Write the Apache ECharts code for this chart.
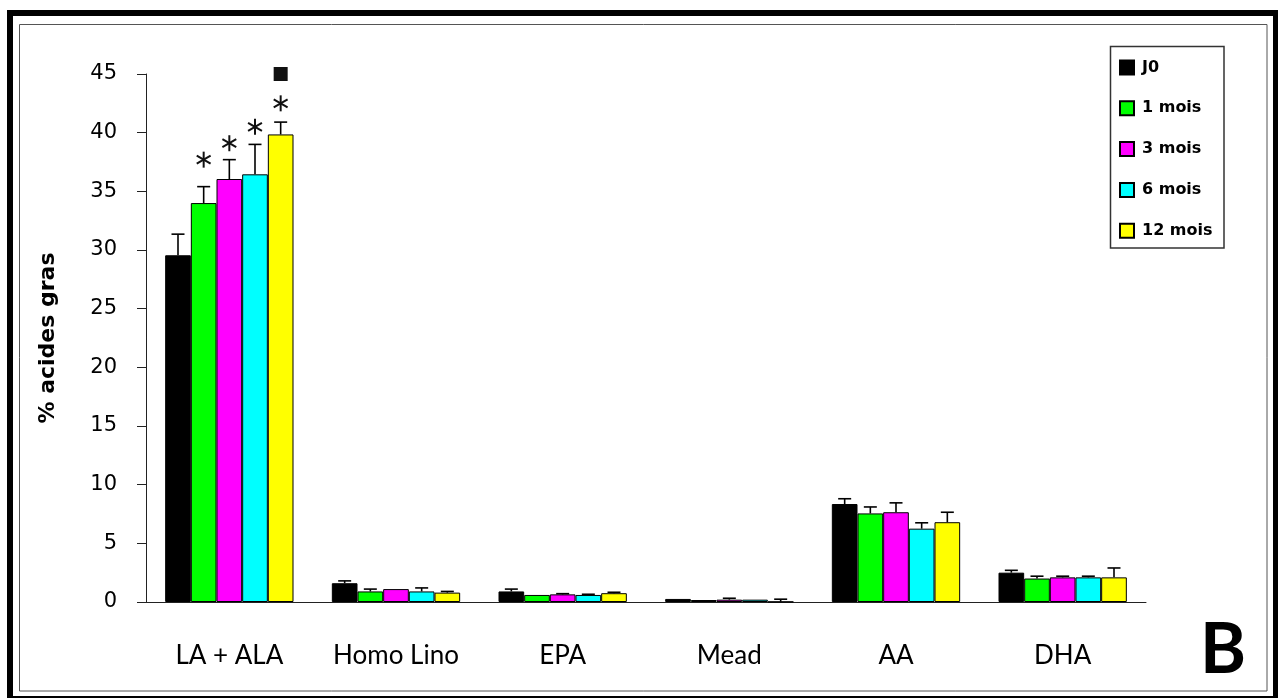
<!DOCTYPE html>
<html>
<head>
<meta charset="utf-8">
<script src="https://cdn.jsdelivr.net/npm/echarts@6/dist/echarts.min.js"></script>
<style>
html,body{margin:0;padding:0;background:#fff;}
#chart{width:1278px;height:698px;}
</style>
</head>
<body>
<div id="chart"></div>
<script>
const categories = ['LA + ALA', 'Homo Lino', 'EPA', 'Mead', 'AA', 'DHA'];
const seriesNames = ['J0', '1 mois', '3 mois', '6 mois', '12 mois'];
const colors = ['#000000', '#00ff00', '#ff00ff', '#00ffff', '#ffff00'];

const valJ0  = [29.55, 1.6, 0.9, 0.26, 8.35, 2.5];
const val1m  = [34.0, 0.9, 0.6, 0.17, 7.55, 2.0];
const val3m  = [36.05, 1.1, 0.65, 0.2, 7.65, 2.1];
const val6m  = [36.45, 0.9, 0.6, 0.2, 6.25, 2.1];
const val12m = [39.85, 0.8, 0.75, 0.02, 6.8, 2.1];

const sdJ0  = [1.8, 0.2, 0.2, 0, 0.45, 0.2];
const sd1m  = [1.4, 0.2, 0, 0, 0.55, 0.2];
const sd3m  = [1.65, 0, 0.06, 0.12, 0.8, 0.1];
const sd6m  = [2.55, 0.3, 0.06, 0, 0.5, 0.1];
const sd12m = [1.05, 0.1, 0.08, 0.22, 0.85, 0.8];

// significance marks: category index, series index, y value, kind
const sigCat    = [0, 0, 0, 0, 0];
const sigSeries = [1, 2, 3, 4, 4];
const sigY      = [37.7, 39.1, 40.5, 42.5, 45.0];
const sigKind   = ['star', 'star', 'star', 'star', 'square'];

const values = [valJ0, val1m, val3m, val6m, val12m];
const sds = [sdJ0, sd1m, sd3m, sd6m, sd12m];
const GAP = 0.23;
const FONT = 'Lato';
const WIDE = 'DejaVu Sans';

const errData = [];
values.forEach((arr, si) => arr.forEach((v, ci) => {
  if (sds[si][ci] > 0) errData.push([ci, v, sds[si][ci], si]);
}));
const sigData = sigCat.map((c, i) => [c, sigY[i], sigSeries[i], sigKind[i] === 'square' ? 1 : 0]);

function barX(api, ci, si) {
  const band = api.size([1, 0])[0];
  const bw = band * (1 - GAP) / seriesNames.length;
  const c = api.coord([ci, 0]);
  return c[0] + (si - (seriesNames.length - 1) / 2) * bw;
}

const chart = echarts.init(document.getElementById('chart'));
const barSeries = seriesNames.map((n, si) => ({
  name: n,
  type: 'bar',
  data: values[si],
  barGap: '0%',
  barCategoryGap: (GAP * 100) + '%',
  itemStyle: { color: colors[si], borderColor: '#000', borderWidth: 1 },
  emphasis: { disabled: true },
  animation: false
}));

chart.setOption({
  animation: false,
  textStyle: { fontFamily: FONT },
  grid: { left: 146, right: 132, top: 74, bottom: 96 },
  legend: {
    data: seriesNames,
    orient: 'vertical',
    left: 1119,
    top: 59.5,
    padding: 0,
    itemWidth: 14,
    itemHeight: 14,
    itemGap: 24.8,
    icon: 'rect',
    textStyle: { fontFamily: WIDE, fontSize: 16, fontWeight: 'bold', color: '#000', lineHeight: 14, height: 14, padding: [0, 0, 0, 3] }
  },
  xAxis: {
    type: 'category',
    data: categories,
    axisLine: { lineStyle: { color: '#222', width: 1 } },
    axisTick: { length: 11, lineStyle: { color: '#222' } },
    axisLabel: { color: '#000', fontSize: 26, margin: 41, fontFamily: FONT }
  },
  yAxis: {
    type: 'value',
    min: 0, max: 45, interval: 5,
    name: '% acides gras',
    nameLocation: 'middle',
    nameGap: 87,
    nameTextStyle: { fontSize: 22, fontWeight: 'bold', color: '#000', fontFamily: WIDE },
    splitLine: { show: false },
    axisLine: { show: true, lineStyle: { color: '#222', width: 1 } },
    axisTick: { show: true, length: 9, lineStyle: { color: '#222' } },
    axisLabel: { color: '#000', fontSize: 21, margin: 29, fontFamily: WIDE }
  },
  series: barSeries.concat([
    {
      type: 'custom',
      name: 'err',
      data: errData,
      encode: { x: 0, y: 1 },
      z: 5,
      silent: true,
      renderItem: function (params, api) {
        const ci = api.value(0), v = api.value(1), sd = api.value(2), si = api.value(3);
        const x = barX(api, ci, si);
        const y0 = api.coord([ci, v])[1];
        const y1 = api.coord([ci, v + sd])[1];
        const st = { stroke: '#000', lineWidth: 1.6 };
        return {
          type: 'group',
          children: [
            { type: 'line', shape: { x1: x, y1: y0, x2: x, y2: y1 }, style: st },
            { type: 'line', shape: { x1: x - 6.5, y1: y1, x2: x + 6.5, y2: y1 }, style: st }
          ]
        };
      }
    },
    {
      type: 'custom',
      name: 'sig',
      data: sigData,
      encode: { x: 0, y: 1 },
      z: 6,
      silent: true,
      renderItem: function (params, api) {
        const ci = api.value(0), yv = api.value(1), si = api.value(2), sq = api.value(3);
        const x = barX(api, ci, si);
        const y = api.coord([ci, yv])[1];
        if (sq) {
          return { type: 'rect', shape: { x: x - 7, y: y - 7, width: 14, height: 14 }, style: { fill: '#111' } };
        }
        const r = 8;
        const st = { stroke: '#111', lineWidth: 2 };
        const dx = r * Math.cos(Math.PI / 6), dy = r * Math.sin(Math.PI / 6);
        return {
          type: 'group',
          children: [
            { type: 'line', shape: { x1: x, y1: y - r, x2: x, y2: y + r }, style: st },
            { type: 'line', shape: { x1: x - dx, y1: y - dy, x2: x + dx, y2: y + dy }, style: st },
            { type: 'line', shape: { x1: x - dx, y1: y + dy, x2: x + dx, y2: y - dy }, style: st }
          ]
        };
      }
    }
  ]),
  graphic: [
    { type: 'rect', shape: { x: 10, y: 13, width: 1266, height: 686 }, style: { fill: 'none', stroke: '#000', lineWidth: 6 }, silent: true },
    { type: 'rect', shape: { x: 19.5, y: 24.5, width: 1247.5, height: 666.5 }, style: { fill: 'none', stroke: '#555', lineWidth: 1 }, silent: true },
    { type: 'rect', shape: { x: 1110.5, y: 46.5, width: 113.5, height: 201.5 }, style: { fill: 'none', stroke: '#333', lineWidth: 1.5 }, silent: true },
    { type: 'text', x: 1200, y: 650, style: { text: 'B', fontSize: 70, fontWeight: 'bold', fontFamily: FONT, fill: '#000', verticalAlign: 'middle' }, silent: true }
  ]
});
</script>
</body>
</html>
